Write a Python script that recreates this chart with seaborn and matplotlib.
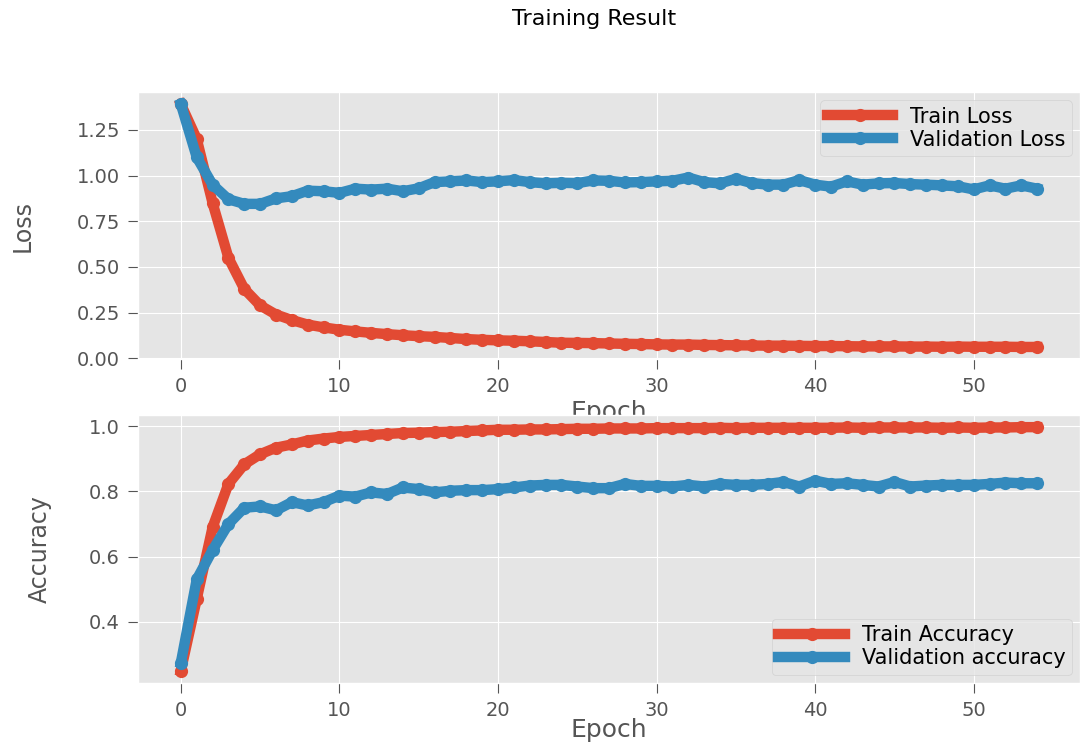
import numpy as np
import pandas as pd
import matplotlib
matplotlib.use("Agg")
import matplotlib.pyplot as plt
import seaborn as sns

epochs = list(range(55))

train_loss = [1.39, 1.20, 0.85, 0.55, 0.38, 0.29, 0.24, 0.21, 0.185, 0.17,
              0.157, 0.148, 0.140, 0.133, 0.127, 0.122, 0.118, 0.112, 0.106, 0.102,
              0.099, 0.097, 0.094, 0.090, 0.086, 0.085, 0.084, 0.082, 0.080, 0.079,
              0.077, 0.076, 0.076, 0.074, 0.073, 0.072, 0.071, 0.070, 0.070, 0.069,
              0.068, 0.068, 0.067, 0.066, 0.066, 0.066, 0.065, 0.065, 0.064, 0.065,
              0.064, 0.064, 0.064, 0.063, 0.063]
val_loss = [1.39, 1.10, 0.95, 0.87, 0.845, 0.845, 0.875, 0.887, 0.917, 0.914,
            0.905, 0.928, 0.923, 0.928, 0.914, 0.930, 0.964, 0.968, 0.973, 0.964,
            0.968, 0.975, 0.964, 0.957, 0.960, 0.958, 0.973, 0.971, 0.962, 0.964,
            0.968, 0.971, 0.989, 0.964, 0.957, 0.982, 0.959, 0.950, 0.950, 0.975,
            0.950, 0.939, 0.968, 0.950, 0.957, 0.959, 0.953, 0.950, 0.946, 0.941,
            0.924, 0.946, 0.928, 0.946, 0.928]
train_acc = [0.25, 0.47, 0.69, 0.823, 0.883, 0.914, 0.934, 0.944, 0.956, 0.962,
             0.967, 0.970, 0.973, 0.976, 0.979, 0.980, 0.982, 0.983, 0.985, 0.987,
             0.989, 0.989, 0.990, 0.990, 0.991, 0.992, 0.992, 0.993, 0.993, 0.993,
             0.994, 0.994, 0.994, 0.994, 0.995, 0.994, 0.995, 0.995, 0.995, 0.995,
             0.995, 0.995, 0.996, 0.995, 0.996, 0.996, 0.996, 0.996, 0.995, 0.996,
             0.995, 0.996, 0.996, 0.997, 0.997]
val_acc = [0.275, 0.53, 0.62, 0.70, 0.75, 0.754, 0.742, 0.767, 0.757, 0.767,
           0.787, 0.784, 0.797, 0.792, 0.812, 0.807, 0.797, 0.802, 0.804, 0.804,
           0.807, 0.812, 0.818, 0.820, 0.820, 0.815, 0.810, 0.810, 0.823, 0.817,
           0.817, 0.815, 0.820, 0.815, 0.823, 0.820, 0.820, 0.823, 0.829, 0.815,
           0.833, 0.823, 0.825, 0.820, 0.815, 0.829, 0.815, 0.818, 0.820, 0.820,
           0.820, 0.823, 0.827, 0.825, 0.825]

plt.style.use("ggplot")
red = "#E24A33"
blue = "#348ABD"

fig = plt.figure(figsize=(10.81, 7.45), dpi=100)
ax1 = fig.add_axes([0.1277, 0.518, 0.8713, 0.3585])
ax2 = fig.add_axes([0.1277, 0.0832, 0.8713, 0.3598])

lw = 7.5
ms = 9.5
sns.lineplot(x=epochs, y=train_loss, ax=ax1, color=red, linewidth=lw, marker="o",
             markersize=ms, markeredgewidth=0, label="Train Loss")
sns.lineplot(x=epochs, y=val_loss, ax=ax1, color=blue, linewidth=lw, marker="o",
             markersize=ms, markeredgewidth=0, label="Validation Loss")
sns.lineplot(x=epochs, y=train_acc, ax=ax2, color=red, linewidth=lw, marker="o",
             markersize=ms, markeredgewidth=0, label="Train Accuracy")
sns.lineplot(x=epochs, y=val_acc, ax=ax2, color=blue, linewidth=lw, marker="o",
             markersize=ms, markeredgewidth=0, label="Validation accuracy")

ax1.set_yticks([0.0, 0.25, 0.5, 0.75, 1.0, 1.25])
ax2.set_yticks([0.4, 0.6, 0.8, 1.0])
for ax in (ax1, ax2):
    ax.set_xticks([0, 10, 20, 30, 40, 50])
    ax.tick_params(labelsize=14, colors="#555555", labelcolor="#555555",
                   length=7, pad=6)

ax1.set_xlabel("Epoch", fontsize=18, color="#555555")
ax2.set_xlabel("Epoch", fontsize=18, color="#555555")
ax1.xaxis.set_label_coords(0.5, -0.152)
ax2.xaxis.set_label_coords(0.5, -0.13)

ax1.set_ylabel("Loss", fontsize=17, color="#555555")
ax2.set_ylabel("Accuracy", fontsize=17, color="#555555")
ax1.yaxis.set_label_coords(-0.110, 0.5)
ax2.yaxis.set_label_coords(-0.092, 0.5)

ax1.legend(loc="upper right", fontsize=15, handlelength=3.2, labelspacing=0.15,
           borderpad=0.3, borderaxespad=0.4)
ax2.legend(loc="lower right", fontsize=15, handlelength=3.2, labelspacing=0.15,
           borderpad=0.3, borderaxespad=0.4)

fig.suptitle("Training Result", x=0.55, y=0.988, fontsize=16)

fig.savefig("out.png", dpi=100)
